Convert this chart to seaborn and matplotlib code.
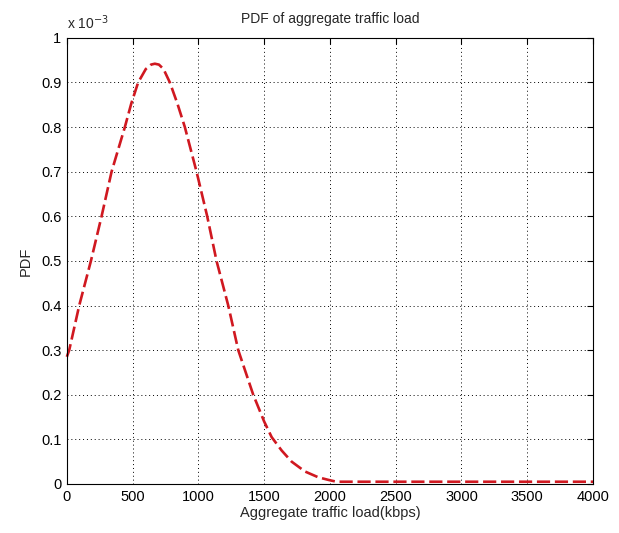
# PDF of aggregate traffic load (MATLAB-style dashed red curve)
import numpy as np
import matplotlib
matplotlib.use("Agg")
import matplotlib.pyplot as plt
import seaborn as sns
from matplotlib import ticker

# values (pdf in units of 1e-3)
load_kbps = [0, 18, 94, 183, 264, 340, 441, 490, 542, 600, 640, 669, 700, 735,
             783, 840, 897, 986, 1067, 1138, 1227, 1303, 1360, 1417, 1500, 1557,
             1633, 1709, 1810, 1911, 1990, 2050, 2500, 3000, 3500, 4000]
pdf_e3 = [0.285, 0.30, 0.40, 0.50, 0.60, 0.70, 0.80, 0.853, 0.90, 0.930, 0.940, 0.942, 0.940, 0.930,
          0.90, 0.853, 0.80, 0.70, 0.60, 0.50, 0.40, 0.30, 0.25, 0.20, 0.14, 0.105,
          0.075, 0.05, 0.028, 0.015, 0.009, 0.005, 0.005, 0.005, 0.005, 0.005]

x_ticks = [0, 500, 1000, 1500, 2000, 2500, 3000, 3500, 4000]
y_ticks_e3 = [0, 0.1, 0.2, 0.3, 0.4, 0.5, 0.6, 0.7, 0.8, 0.9, 1.0]

pdf = np.array(pdf_e3) * 1e-3

sns.set_style("white")
plt.rcParams['font.family'] = ['Liberation Sans', 'DejaVu Sans']

fig = plt.figure(figsize=(6.19, 5.33), dpi=100)
ax = fig.add_axes([0.108, 0.092, 0.850, 0.837])

sns.lineplot(x=load_kbps, y=pdf, ax=ax, color='#d01820', linewidth=1.9, sort=False)
ax.lines[0].set_linestyle((0, (5, 1.8)))
ax.lines[0].set_clip_on(False)

ax.set_xlim(0, 4000)
ax.set_ylim(0, 1e-3)
ax.set_xticks(x_ticks)
ax.set_yticks([v * 1e-3 for v in y_ticks_e3])
ax.yaxis.set_major_formatter(ticker.FuncFormatter(lambda v, _: f'{v * 1e3:g}'))

# MATLAB look: box, inward ticks, dotted grid
for s in ax.spines.values():
    s.set_visible(True)
    s.set_color('black')
    s.set_linewidth(0.8)
ax.tick_params(direction='in', length=4, width=0.8, top=True, right=True,
               labelsize=10.5, colors='black', pad=4)
ax.grid(True, linestyle=(0, (1, 3)), color='black', linewidth=0.7)

ax.set_title('PDF of aggregate traffic load', fontsize=10, pad=11)
ax.set_xlabel('Aggregate traffic load(kbps)', fontsize=10.5, labelpad=2)
ax.set_ylabel('PDF', fontsize=10.5, labelpad=6)
ax.text(0.0, 1.012, r'x 10$^{-3}$', transform=ax.transAxes, fontsize=10, va='bottom', ha='left')

fig.savefig('out.png', dpi=100)
